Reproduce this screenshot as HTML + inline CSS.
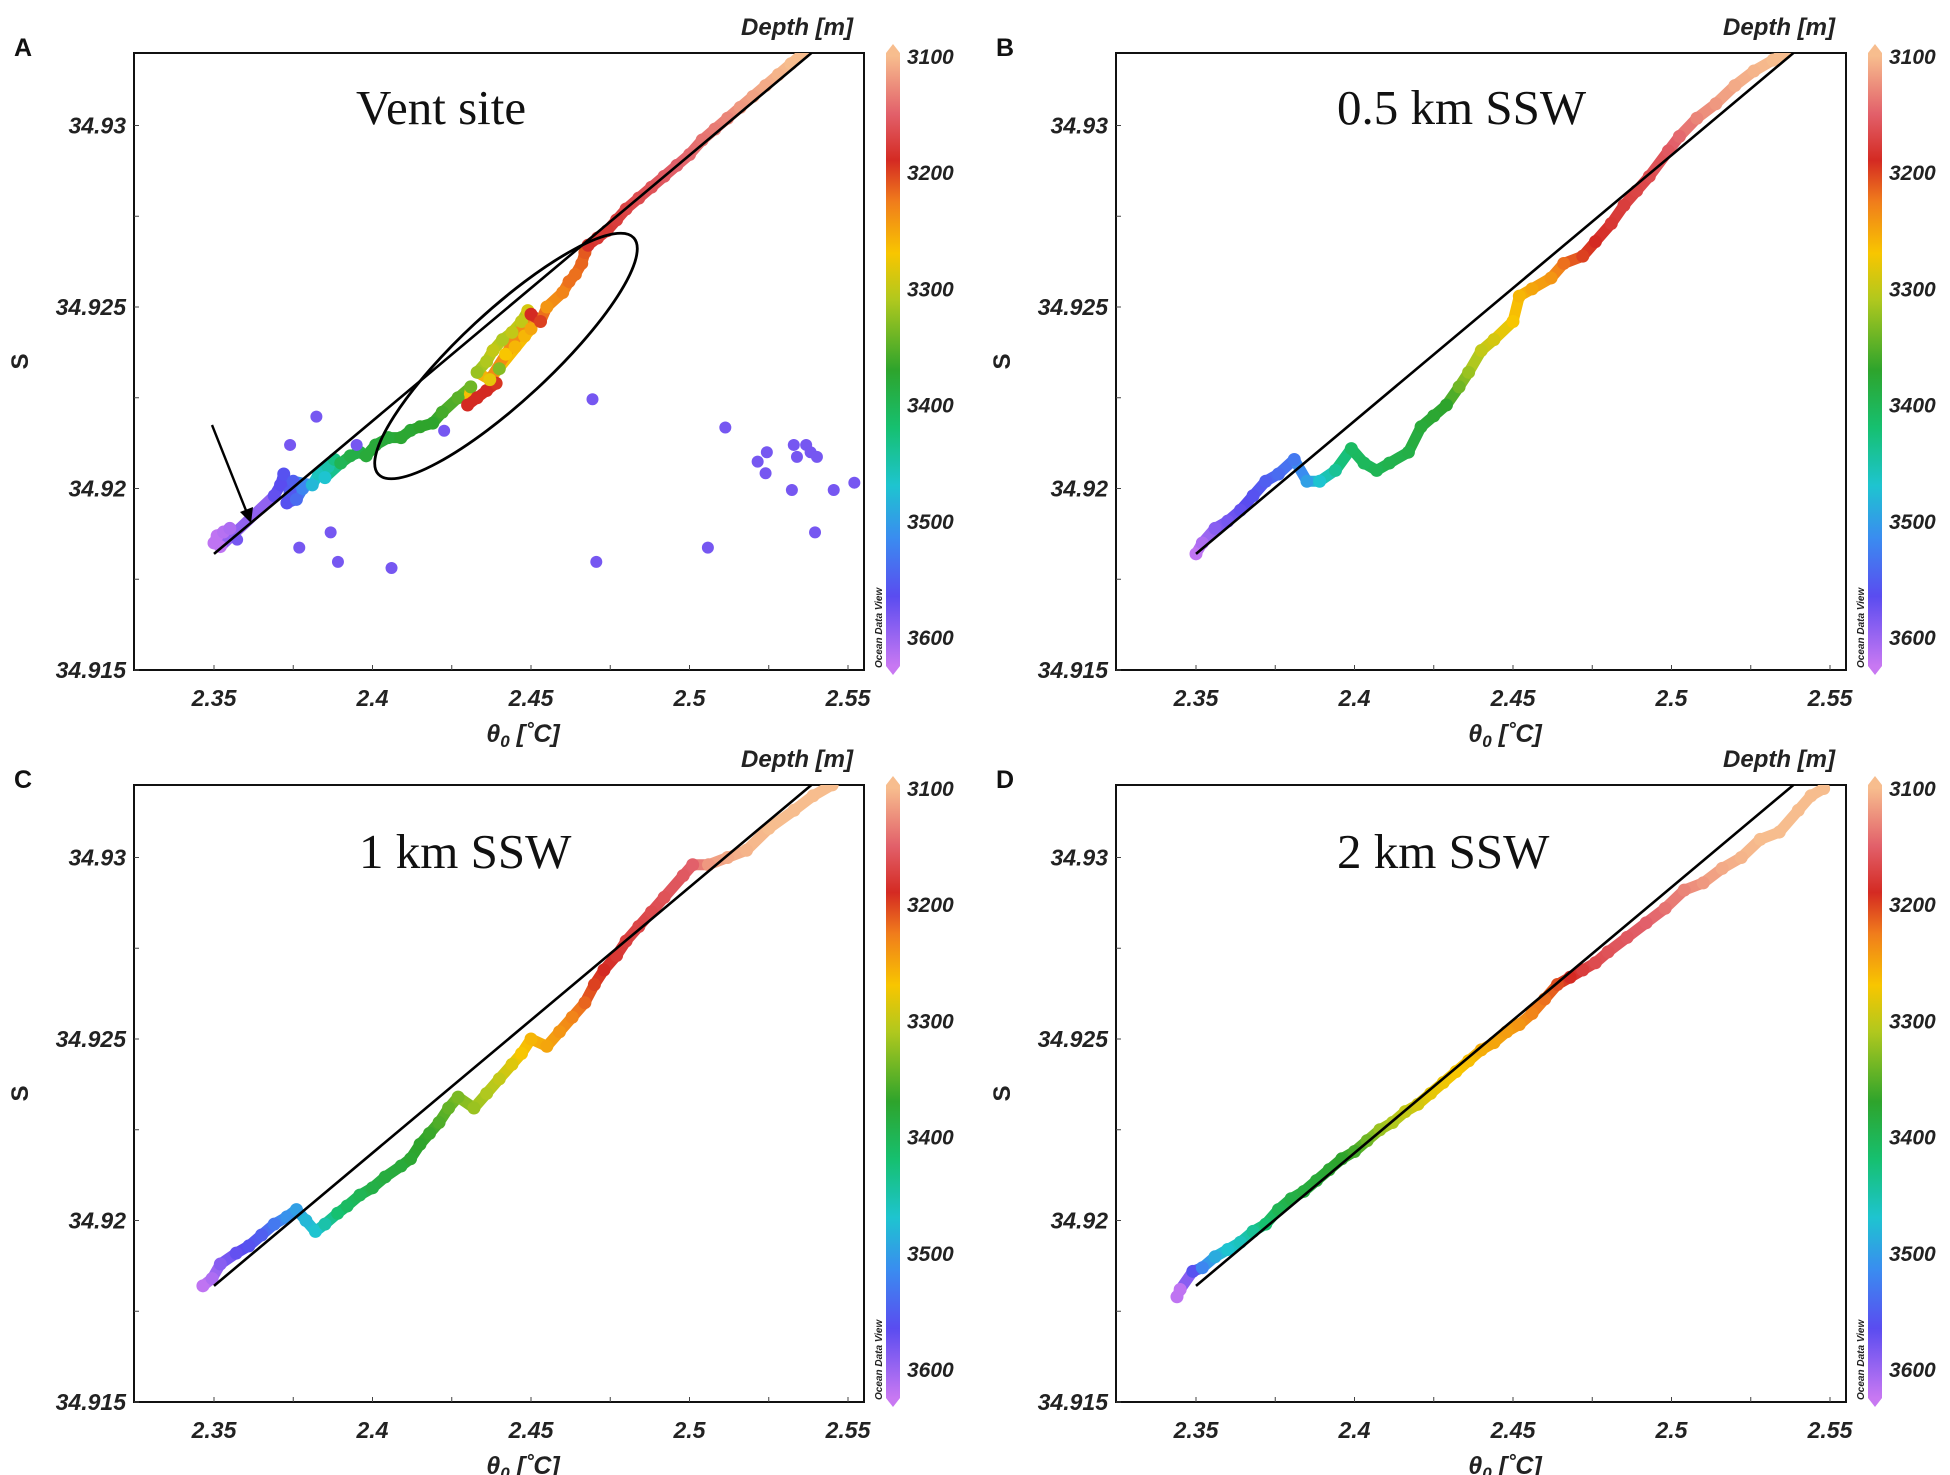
<!DOCTYPE html>
<html><head><meta charset="utf-8"><style>
html,body{margin:0;padding:0;background:#fff;overflow:hidden}
svg{display:block}
</style></head><body>
<svg id="fig" width="1950" height="1475" viewBox="0 0 1950 1475" xmlns="http://www.w3.org/2000/svg" font-family="Liberation Sans, Arial, sans-serif">
<defs>
<linearGradient id="cbgrad" x1="0" y1="0" x2="0" y2="1"></linearGradient>
</defs>
</svg>
<script>
// ---------- data ----------
const xTicks=[2.35,2.4,2.45,2.5,2.55];
const xTickLabels=["2.35","2.4","2.45","2.5","2.55"];
const yTicks=[34.915,34.92,34.925,34.93];
const yTickLabels=["34.915","34.92","34.925","34.93"];
const cbTicks=[3100,3200,3300,3400,3500,3600];
const panelLetters=["A","B","C","D"];
const panelTitles=["Vent site","0.5 km SSW","1 km SSW","2 km SSW"];
const lineTheta=[2.35,2.5385];
const lineSal=[34.9182,34.932];

const thetaA=[2.350,2.351,2.353,2.355,2.352,2.369,2.371,2.372,2.374,2.373,2.376,2.378,2.375,2.381,2.383,2.386,2.388,2.385,2.390,2.393,2.396,2.398,2.401,2.405,2.409,2.412,2.415,2.419,2.422,2.427,2.431,2.430,2.433,2.436,2.439,2.433,2.436,2.438,2.441,2.444,2.447,2.449,2.440,2.442,2.445,2.448,2.450,2.437,2.450,2.453,2.455,2.460,2.462,2.464,2.466,2.467,2.468,2.471,2.474,2.477,2.480,2.484,2.488,2.492,2.496,2.500,2.504,2.508,2.512,2.516,2.520,2.524,2.528,2.532,2.536];
const salA=[34.9185,34.9187,34.9188,34.9189,34.9184,34.9198,34.9201,34.9204,34.9199,34.9196,34.9197,34.9200,34.9202,34.9201,34.9204,34.9206,34.9208,34.9203,34.9207,34.9209,34.9210,34.9209,34.9212,34.9214,34.9214,34.9216,34.9217,34.9218,34.9221,34.9225,34.9228,34.9223,34.9225,34.9227,34.9229,34.9232,34.9235,34.9238,34.9241,34.9243,34.9246,34.9249,34.9233,34.9237,34.9239,34.9242,34.9244,34.9230,34.9248,34.9246,34.9250,34.9254,34.9257,34.9259,34.9262,34.9265,34.9267,34.9269,34.9271,34.9274,34.9277,34.9280,34.9283,34.9286,34.9289,34.9292,34.9296,34.9299,34.9302,34.9305,34.9308,34.9311,34.9314,34.9317,34.9320];
const depthA=[3620,3620,3615,3610,3620,3570,3565,3560,3555,3560,3540,3520,3550,3480,3460,3450,3430,3470,3400,3390,3390,3380,3380,3380,3375,3375,3370,3370,3360,3350,3340,3190,3190,3190,3195,3320,3310,3300,3310,3300,3300,3290,3330,3270,3260,3260,3250,3280,3190,3200,3240,3230,3220,3220,3215,3210,3185,3180,3180,3175,3170,3165,3160,3155,3150,3145,3140,3135,3130,3120,3115,3110,3105,3100,3100];
// scattered outliers (vent site)
const thetaOut=[2.3823,2.3740,2.3950,2.4226,2.3573,2.3769,2.3868,2.3891,2.4060,2.4694,2.4706,2.5058,2.5113,2.5215,2.5244,2.5240,2.5323,2.5329,2.5368,2.5382,2.5402,2.5396,2.5455,2.5520,2.5339];
const salOut=[34.92198,34.92120,34.92120,34.92159,34.91859,34.91837,34.91879,34.91798,34.91781,34.92246,34.91798,34.91837,34.92168,34.92074,34.92100,34.92042,34.91996,34.92120,34.92120,34.92100,34.92087,34.91879,34.91996,34.92016,34.92087];
const depthOut=[3580,3580,3580,3580,3580,3580,3580,3580,3580,3580,3580,3580,3580,3580,3580,3580,3580,3580,3580,3580,3580,3580,3580,3580,3580];

const thetaB=[2.350,2.352,2.356,2.360,2.364,2.368,2.372,2.376,2.381,2.385,2.389,2.394,2.399,2.403,2.407,2.411,2.417,2.421,2.425,2.429,2.433,2.436,2.440,2.444,2.450,2.452,2.456,2.462,2.466,2.472,2.476,2.481,2.485,2.489,2.493,2.499,2.5025,2.508,2.514,2.520,2.526,2.532,2.536];
const salB=[34.9182,34.9185,34.9189,34.9191,34.9194,34.9198,34.9202,34.9204,34.9208,34.9202,34.9202,34.9205,34.9211,34.9207,34.9205,34.9207,34.9210,34.9217,34.9220,34.9223,34.9228,34.9232,34.9238,34.9241,34.9246,34.9253,34.9255,34.9258,34.9262,34.9264,34.9268,34.9273,34.9278,34.9282,34.9286,34.9293,34.9297,34.9302,34.9306,34.9311,34.9315,34.9318,34.9320];
const depthB=[3620,3610,3590,3580,3570,3560,3550,3540,3530,3500,3470,3440,3410,3405,3400,3395,3390,3380,3375,3370,3340,3320,3300,3290,3270,3260,3250,3240,3220,3200,3190,3180,3175,3170,3165,3155,3145,3130,3120,3110,3105,3100,3100];

const thetaC=[2.3465,2.3494,2.352,2.357,2.361,2.365,2.369,2.373,2.376,2.379,2.382,2.385,2.389,2.392,2.396,2.400,2.404,2.409,2.412,2.415,2.418,2.421,2.424,2.427,2.432,2.436,2.440,2.444,2.447,2.450,2.455,2.459,2.463,2.467,2.470,2.473,2.477,2.480,2.484,2.488,2.492,2.498,2.501,2.506,2.512,2.518,2.525,2.533,2.539,2.545];
const salC=[34.9182,34.9184,34.9188,34.9191,34.9193,34.9196,34.9199,34.9201,34.9203,34.9200,34.9197,34.9199,34.9202,34.9204,34.9207,34.9209,34.9212,34.9215,34.9217,34.9221,34.9224,34.9227,34.9231,34.9234,34.9231,34.9235,34.9239,34.9243,34.9246,34.9250,34.9248,34.9252,34.9256,34.9260,34.9265,34.9269,34.9273,34.9277,34.9281,34.9285,34.9289,34.9295,34.9298,34.9298,34.9300,34.9302,34.9308,34.9313,34.9317,34.9320];
const depthC=[3620,3610,3590,3570,3560,3550,3530,3510,3500,3480,3470,3450,3420,3410,3400,3390,3385,3380,3375,3370,3365,3355,3345,3335,3320,3310,3300,3285,3270,3260,3250,3240,3230,3215,3200,3190,3180,3175,3170,3165,3160,3155,3150,3120,3110,3105,3100,3100,3100,3100];

const thetaD=[2.344,2.345,2.349,2.352,2.356,2.360,2.364,2.368,2.372,2.376,2.380,2.384,2.388,2.392,2.396,2.400,2.404,2.408,2.412,2.416,2.420,2.424,2.428,2.432,2.436,2.440,2.444,2.448,2.452,2.456,2.460,2.464,2.468,2.472,2.476,2.480,2.486,2.492,2.498,2.504,2.510,2.516,2.522,2.528,2.534,2.540,2.544,2.548];
const salD=[34.9179,34.9181,34.9186,34.9187,34.9190,34.9192,34.9194,34.9197,34.9199,34.9203,34.9206,34.9208,34.9211,34.9214,34.9217,34.9219,34.9222,34.9225,34.9227,34.9230,34.9232,34.9235,34.9238,34.9241,34.9244,34.9247,34.9249,34.9252,34.9254,34.9257,34.9261,34.9265,34.9267,34.9269,34.9271,34.9274,34.9278,34.9282,34.9286,34.9291,34.9293,34.9297,34.9300,34.9305,34.9307,34.9313,34.9317,34.9319];
const depthD=[3620,3620,3560,3520,3490,3470,3460,3440,3420,3400,3390,3385,3380,3375,3370,3360,3340,3320,3310,3300,3290,3280,3275,3270,3265,3255,3250,3245,3240,3230,3220,3205,3190,3175,3165,3160,3155,3150,3140,3130,3120,3110,3105,3100,3100,3100,3100,3100];

// ---------- layout ----------
const SVGNS="http://www.w3.org/2000/svg";
const svg=document.getElementById('fig');
const PW=730, PH=617, CB_DX=752;
const panels=[{x:134,y:53},{x:1116,y:53},{x:134,y:785},{x:1116,y:785}];
const titleX=[356,1337,359,1337];
const titleY=[71,71,83,83];
const stops=[[3100,"#f7bd8e"],[3150,"#e2606a"],[3190,"#d42a22"],[3225,"#f07c1c"],[3270,"#f8c600"],[3310,"#b0c81e"],[3370,"#2ea42c"],[3420,"#16c070"],[3470,"#1ec4d0"],[3515,"#3a8cf0"],[3565,"#5a4cf0"],[3625,"#c878f2"]];
function xs(t){return 80+(t-2.35)*3170;}
function ys(s){return PH-(s-34.915)*36300;}
function cby(d){return 3+(d-3100)*1.162;}
function hex(c){return [parseInt(c.substr(1,2),16),parseInt(c.substr(3,2),16),parseInt(c.substr(5,2),16)];}
function col(d){
  if(d<=stops[0][0])return stops[0][1];
  for(let i=1;i<stops.length;i++){
    if(d<=stops[i][0]){
      const f=(d-stops[i-1][0])/(stops[i][0]-stops[i-1][0]);
      const a=hex(stops[i-1][1]),b=hex(stops[i][1]);
      return "rgb("+a.map((v,k)=>Math.round(v+(b[k]-v)*f)).join(",")+")";
    }
  }
  return stops[stops.length-1][1];
}
function mk(tag,attrs,parent){
  const e=document.createElementNS(SVGNS,tag);
  for(const k in attrs)e.setAttribute(k,attrs[k]);
  (parent||svg).appendChild(e);return e;
}
const CBH=cby(3625);
const g0=document.getElementById('cbgrad');
stops.forEach(s=>{mk('stop',{offset:(cby(s[0])/CBH).toFixed(4),'stop-color':s[1]},g0);});

const series=[[thetaA,salA,depthA],[thetaB,salB,depthB],[thetaC,salC,depthC],[thetaD,salD,depthD]];

panels.forEach((p,pi)=>{
  const g=mk('g',{transform:`translate(${p.x},${p.y})`});
  
  
  const fr=mk('rect',{x:0,y:0,width:PW,height:PH,fill:'#fff',stroke:'#111','stroke-width':2},g);
  
  
  const clip=mk('clipPath',{id:'clip'+pi},g);
  mk('rect',{x:0,y:0,width:PW,height:PH},clip);
  const plot=mk('g',{'clip-path':`url(#clip${pi})`},g);
  
  
  for(let t=2.35;t<=2.5501;t+=0.025){
    const tk=mk('line',{x1:xs(t),x2:xs(t),y1:PH,y2:PH-5,stroke:'#444','stroke-width':1},g);
    
    
  }
  for(let s=34.915;s<=34.9321;s+=0.0025){
    const tk=mk('line',{x1:0,x2:5,y1:ys(s),y2:ys(s),stroke:'#444','stroke-width':1},g);
    
    
  }
  xTicks.forEach((t,i)=>{
    const tx=mk('text',{x:xs(t),y:PH+36,'text-anchor':'middle','font-size':23,'font-weight':'bold','font-style':'italic',fill:'#222'},g);
    tx.textContent=xTickLabels[i];
    
    
  });
  yTicks.forEach((s,i)=>{
    const tx=mk('text',{x:-8,y:ys(s)+8,'text-anchor':'end','font-size':23,'font-weight':'bold','font-style':'italic',fill:'#222'},g);
    tx.textContent=yTickLabels[i];
    
    
  });
  const xt=mk('text',{x:xs(2.45)-8,y:PH+72,'text-anchor':'middle','font-size':25,'font-weight':'bold','font-style':'italic',fill:'#222'},g);
  xt.innerHTML='θ<tspan font-size="17" dy="5">0</tspan><tspan dy="-5"> [˚C]</tspan>';
  
  
  const yt=mk('text',{x:0,y:0,transform:`translate(${-106},${PH/2}) rotate(-90)`,'text-anchor':'middle','font-size':24,'font-weight':'bold',fill:'#222'},g);
  yt.textContent='S';
  
  
  const pl=mk('text',{x:-120,y:3,'font-size':25,'font-weight':'bold',fill:'#111'},g);
  pl.textContent=panelLetters[pi];
  
  
  const tt=mk('text',{x:titleX[pi]-p.x,y:titleY[pi],fill:'#111'},g);
  tt.setAttribute('style','font-family:"Liberation Serif","Times New Roman",serif;font-size:49px');
  tt.textContent=panelTitles[pi];
  
  
  const [th,sa,de]=series[pi];
  for(let i=1;i<th.length;i++){
    const sg=mk('line',{x1:xs(th[i-1]),y1:ys(sa[i-1]),x2:xs(th[i]),y2:ys(sa[i]),stroke:col((de[i]+de[i-1])/2),'stroke-width':11,'stroke-linecap':'round'},plot);
    
    
  }
  for(let i=0;i<th.length;i++){
    const c=mk('circle',{cx:xs(th[i]),cy:ys(sa[i]),r:6.5,fill:col(de[i])},plot);
    
    
  }
  if(pi===0){
    thetaOut.forEach((t,i)=>{
      const c=mk('circle',{cx:xs(t),cy:ys(salOut[i]),r:6,fill:col(depthOut[i])},plot);
      
      
    });
  }
  const ln=mk('line',{x1:xs(lineTheta[0]),y1:ys(lineSal[0]),x2:xs(lineTheta[1]),y2:ys(lineSal[1]),stroke:'#000','stroke-width':2.6},plot);
  
  
  if(pi===0){
    const el=mk('ellipse',{cx:372,cy:303,rx:174,ry:45,transform:'rotate(-42.8 372 303)',fill:'none',stroke:'#000','stroke-width':2.8},plot);
    
    
    const ar=mk('line',{x1:78,y1:372,x2:113,y2:460,stroke:'#000','stroke-width':2.4},plot);
    
    
    const ah=mk('polygon',{points:'117,470 106,459 119,454',fill:'#000'},plot);
    
    
  }
  const cb=mk('g',{transform:`translate(${CB_DX},0)`},g);
  
  
  mk('rect',{x:0,y:0,width:14,height:CBH,fill:'url(#cbgrad)'},cb);
  mk('polygon',{points:`0,0 14,0 7,-9`,fill:stops[0][1]},cb);
  mk('polygon',{points:`0,${CBH} 14,${CBH} 7,${CBH+9}`,fill:stops[stops.length-1][1]},cb);
  cbTicks.forEach(d=>{
    const t=mk('text',{x:21,y:cby(d)+8,'font-size':21,'font-weight':'bold','font-style':'italic',fill:'#222'},cb);
    t.textContent=d;
    
    
  });
  const dt=mk('text',{x:CB_DX-33,y:-18,'text-anchor':'end','font-size':24,'font-weight':'bold','font-style':'italic',fill:'#222'},g);
  dt.textContent='Depth [m]';
  
  
  const odv=mk('text',{x:0,y:0,transform:`translate(${CB_DX-4},${PH-2}) rotate(-90)`,'font-size':10,'font-weight':'bold','font-style':'italic',fill:'#222'},g);
  odv.textContent='Ocean Data View';
  
  
});
</script>
</body></html>
